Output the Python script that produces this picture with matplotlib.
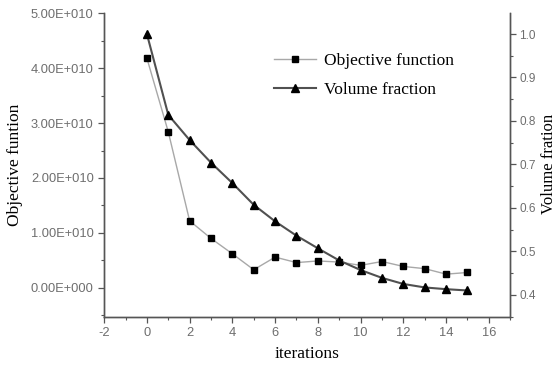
import matplotlib.pyplot as plt
from matplotlib.ticker import FuncFormatter, MultipleLocator

# iterations and the two series
iterations = list(range(16))
objective = [4.18e10, 2.84e10, 1.22e10, 0.90e10, 0.62e10, 0.33e10, 0.56e10, 0.46e10,
             0.49e10, 0.47e10, 0.41e10, 0.48e10, 0.39e10, 0.35e10, 0.25e10, 0.28e10]
volume = [1.0, 0.814, 0.756, 0.704, 0.657, 0.607, 0.569, 0.536,
          0.507, 0.479, 0.457, 0.439, 0.425, 0.417, 0.413, 0.410]

TICK_COLOR = '#6e6e6e'
SERIF = 'Liberation Serif'
SANS = 'Liberation Sans'

plt.rcParams['axes.unicode_minus'] = False


def sci_fmt(v, pos):
    # Origin style: 5.00E+010
    if v == 0:
        return '0.00E+000'
    exp = 0
    m = abs(v)
    while m >= 10:
        m /= 10
        exp += 1
    sign = '-' if v < 0 else ''
    return f"{sign}{m:.2f}E+{exp:03d}"


fig = plt.figure(figsize=(5.57, 3.65), dpi=100)
ax = fig.add_axes([0.187, 0.1315, 0.729, 0.8325])
ax2 = ax.twinx()

l1, = ax.plot(iterations, objective, color='#a8a8a8', lw=1.0, marker='s', ms=5,
              mfc='black', mec='black', label='Objective function')
l2, = ax2.plot(iterations, volume, color='#505050', lw=1.5, marker='^', ms=6,
               mfc='black', mec='black', label='Volume fraction')

ax.set_xlim(-2, 17)
ax.set_ylim(-0.53e10, 5.0e10)
ax2.set_ylim(0.349, 1.048)

ax.xaxis.set_major_locator(MultipleLocator(2))
ax.xaxis.set_minor_locator(MultipleLocator(1))
ax.yaxis.set_major_locator(MultipleLocator(1e10))
ax.yaxis.set_minor_locator(MultipleLocator(0.5e10))
ax.yaxis.set_major_formatter(FuncFormatter(sci_fmt))
ax2.yaxis.set_major_locator(MultipleLocator(0.1))
ax2.yaxis.set_minor_locator(MultipleLocator(0.05))
ax2.yaxis.set_major_formatter(FuncFormatter(lambda v, p: f"{v:.1f}"))

for a in (ax, ax2):
    a.spines['top'].set_visible(False)
    for s in a.spines.values():
        s.set_color('#555555')
        s.set_linewidth(1.0)
    a.tick_params(which='major', direction='out', length=4, width=0.9,
                  colors='#555555', labelcolor=TICK_COLOR, labelsize=9.3)
    a.tick_params(which='minor', direction='out', length=2, width=0.8, colors='#555555')
    for lab in a.get_xticklabels() + a.get_yticklabels():
        lab.set_family(SANS)
ax2.tick_params(which='major', labelsize=8.5, pad=2.5)

ax.set_xlabel('iterations', family=SERIF, fontsize=12.5, labelpad=5)
ax.set_ylabel('Objective funtion', family=SERIF, fontsize=12.5, labelpad=6)
fig.text(0.986, 0.55, 'Volume fration', rotation=90, ha='center', va='center',
         family=SERIF, fontsize=12)

ax.legend([l1, l2], ['Objective function', 'Volume fraction'], loc='upper left',
          bbox_to_anchor=(0.38, 0.92), frameon=False, handlelength=2.4,
          handletextpad=0.5, prop={'family': SERIF, 'size': 12.5}, labelspacing=0.75)

fig.savefig('out.png', dpi=100)
